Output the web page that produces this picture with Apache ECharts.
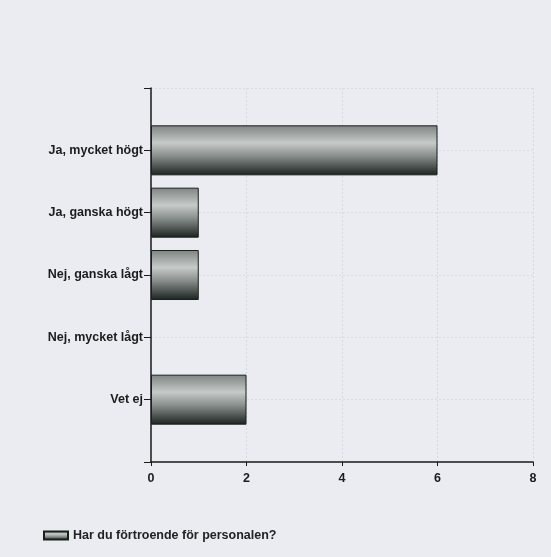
<!DOCTYPE html>
<html>
<head>
<meta charset="utf-8">
<script src="https://cdn.jsdelivr.net/npm/echarts@6/dist/echarts.min.js"></script>
<style>
  html, body { margin: 0; padding: 0; background: #eaecf1; }
  #chart { width: 551px; height: 557px; }
</style>
</head>
<body>
<div id="chart"></div>
<script>
// categories bottom -> top, padded with empty slots at both ends
const categories = ['', 'Vet ej', 'Nej, mycket lågt', 'Nej, ganska lågt', 'Ja, ganska högt', 'Ja, mycket högt', ''];
const values = [null, 2, 0, 1, 1, 6, null];
const xTicks = [0, 2, 4, 6, 8];
const seriesName = 'Har du förtroende för personalen?';

const chart = echarts.init(document.getElementById('chart'));
const barFill = new echarts.graphic.LinearGradient(0, 0, 0, 1, [
  { offset: 0, color: '#7e8482' },
  { offset: 0.35, color: '#c6cac9' },
  { offset: 0.6, color: '#8c9290' },
  { offset: 1, color: '#1a221e' }
]);
const font = 'Liberation Sans, Arial, sans-serif';
const txt = { color: '#1c1c1c', fontSize: 12.5, fontWeight: 'bold', fontFamily: font };

// zero-length bars get no outline so nothing shows
const barData = values.map(v => v === 0 ? { value: v, itemStyle: { borderWidth: 0 } } : v);

chart.setOption({
  backgroundColor: '#eaecf1',
  animation: false,
  grid: { left: 151, right: 18, top: 88, bottom: 95 },
  xAxis: {
    type: 'value', min: xTicks[0], max: xTicks[xTicks.length - 1], interval: 2,
    axisLine: { show: true, lineStyle: { color: '#1a1a1a', width: 1.5 } },
    axisTick: { show: true, length: 4, lineStyle: { color: '#1a1a1a' } },
    axisLabel: Object.assign({ margin: 10 }, txt),
    splitLine: { show: true, lineStyle: { color: '#d6d9de', type: [2, 2], width: 1 } }
  },
  yAxis: {
    type: 'category', data: categories, boundaryGap: false,
    axisLine: { show: true, lineStyle: { color: '#1a1a1a', width: 1.5 } },
    axisTick: { show: true, length: 7, alignWithLabel: true, lineStyle: { color: '#1a1a1a' } },
    axisLabel: Object.assign({ margin: 8, interval: 0 }, txt),
    splitLine: { show: true, lineStyle: { color: '#d9dce1', type: [2, 2], width: 1 } }
  },
  legend: {
    left: 38, top: 524, itemWidth: 24, itemHeight: 8, itemGap: 8, icon: 'rect',
    textStyle: { color: '#222', fontSize: 12.5, fontWeight: 'bold', fontFamily: font },
    data: [seriesName]
  },
  series: [{
    name: seriesName, type: 'bar', data: barData, barWidth: 50,
    itemStyle: { color: barFill, borderColor: '#1a1f1c', borderWidth: 1 }
  }]
});
</script>
</body>
</html>
